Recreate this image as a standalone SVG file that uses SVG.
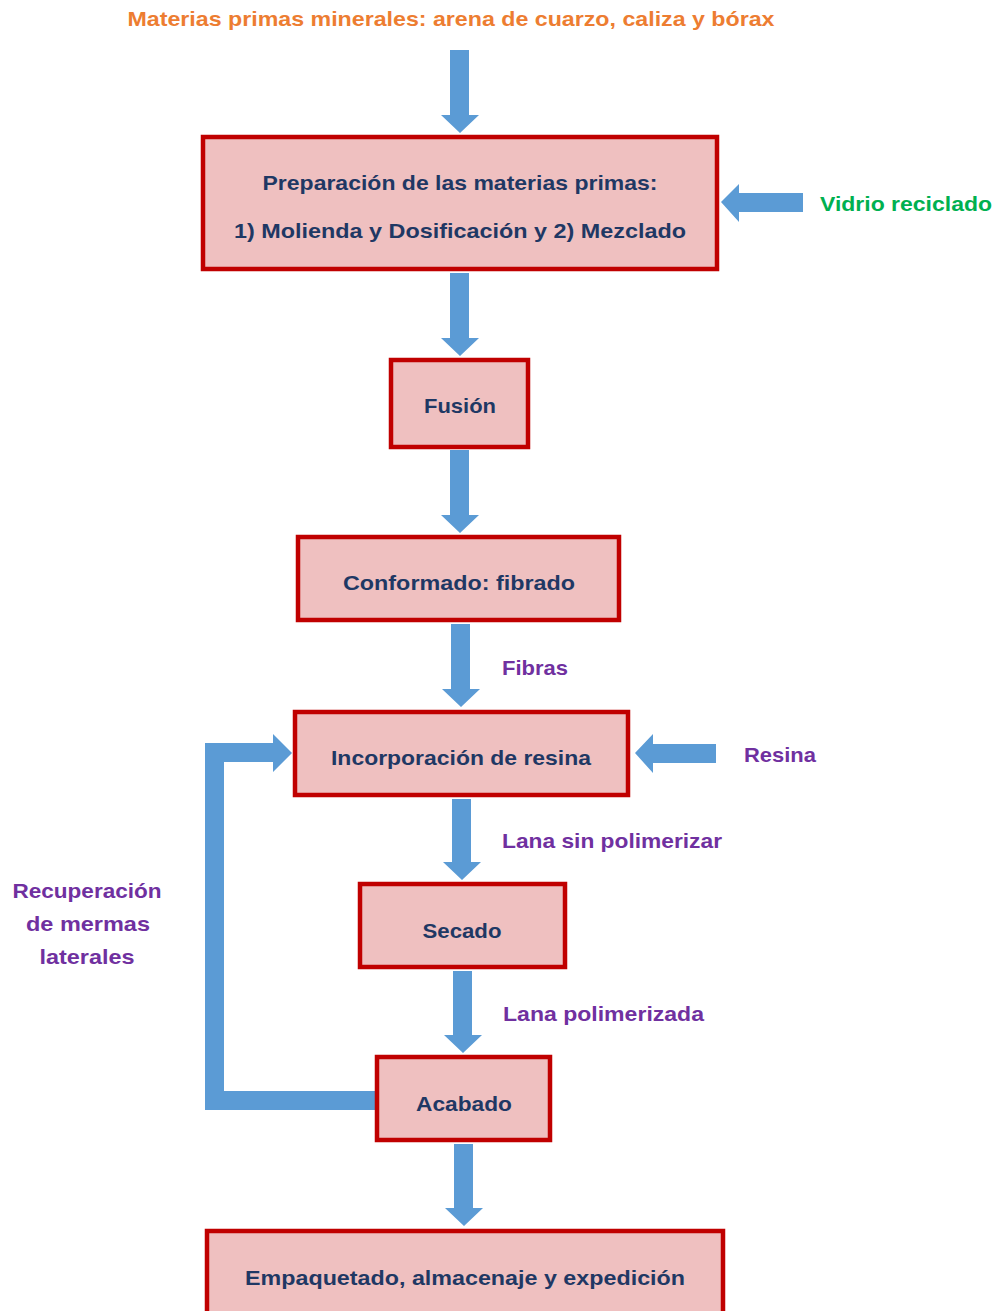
<svg xmlns="http://www.w3.org/2000/svg" width="1003" height="1311" viewBox="0 0 1003 1311">
<style>
.box{fill:#EFC0C0;stroke:#C00000;stroke-width:4.5}
.arr{fill:#5B9BD5}
text{font-family:"Liberation Sans",Arial,sans-serif;font-weight:bold;font-size:21px}
.n{fill:#1F3864;text-anchor:middle}
.p{fill:#7030A0}
.pc{fill:#7030A0;text-anchor:middle}
</style>
<rect width="1003" height="1311" fill="#fff"/>
<text x="451" y="26" fill="#ED7D31" text-anchor="middle" textLength="647" lengthAdjust="spacingAndGlyphs">Materias primas minerales: arena de cuarzo, caliza y bórax</text>
<g id="connectors">
<path class="arr" d="M450,50 H469 V115 H479 L460,133 L441,115 H450 Z"/>
<path class="arr" d="M803,193 V212 H739 V222 L721,202 L739,184 V193 Z"/>
<path class="arr" d="M450,273 H469 V338 H479 L460,356 L441,338 H450 Z"/>
<path class="arr" d="M450,450 H469 V515 H479 L460,533 L441,515 H450 Z"/>
<path class="arr" d="M451,624 H470 V689 H480 L461,707 L442,689 H451 Z"/>
<path class="arr" d="M716,744 V763 H653 V773 L635,753 L653,734 V744 Z"/>
<path class="arr" d="M452,799 H471 V862 H481 L462,880 L443,862 H452 Z"/>
<path class="arr" d="M453,971 H472 V1035 H482 L463,1053 L444,1035 H453 Z"/>
<path class="arr" d="M454,1144 H473 V1208 H483 L464,1226 L445,1208 H454 Z"/>
<path class="arr" d="M375,1091 V1110 H205 V743 H273 V734 L292,753 L273,772 V762 H224 V1091 Z"/>
</g>
<g id="prep">
<rect class="box" x="203" y="137" width="514" height="132"/>
<text class="n" x="460" y="190" textLength="395" lengthAdjust="spacingAndGlyphs">Preparación de las materias primas:</text>
<text class="n" x="460" y="238" textLength="452" lengthAdjust="spacingAndGlyphs">1) Molienda y Dosificación y 2) Mezclado</text>
</g>
<g id="vidrio"><text x="820" y="211" fill="#00B050" textLength="172" lengthAdjust="spacingAndGlyphs">Vidrio reciclado</text></g>
<g id="fusion">
<rect class="box" x="391" y="360" width="137" height="87"/>
<text class="n" x="460" y="413" textLength="72" lengthAdjust="spacingAndGlyphs">Fusión</text>
</g>
<g id="conformado">
<rect class="box" x="298" y="537" width="321" height="83"/>
<text class="n" x="459" y="590" textLength="232" lengthAdjust="spacingAndGlyphs">Conformado: fibrado</text>
</g>
<g id="fibras"><text class="p" x="502" y="675" textLength="66" lengthAdjust="spacingAndGlyphs">Fibras</text></g>
<g id="incorporacion">
<rect class="box" x="295" y="712" width="333" height="83"/>
<text class="n" x="461" y="765" textLength="260" lengthAdjust="spacingAndGlyphs">Incorporación de resina</text>
</g>
<g id="resina"><text class="p" x="744" y="762" textLength="72" lengthAdjust="spacingAndGlyphs">Resina</text></g>
<g id="lanasin"><text class="p" x="502" y="848" textLength="220" lengthAdjust="spacingAndGlyphs">Lana sin polimerizar</text></g>
<g id="recuperacion">
<text class="pc" x="87" y="898" textLength="149" lengthAdjust="spacingAndGlyphs">Recuperación</text>
<text class="pc" x="88" y="931" textLength="124" lengthAdjust="spacingAndGlyphs">de mermas</text>
<text class="pc" x="87" y="964" textLength="95" lengthAdjust="spacingAndGlyphs">laterales</text>
</g>
<g id="secado">
<rect class="box" x="360" y="884" width="205" height="83"/>
<text class="n" x="462" y="938" textLength="79" lengthAdjust="spacingAndGlyphs">Secado</text>
</g>
<g id="lanapol"><text class="p" x="503" y="1021" textLength="201" lengthAdjust="spacingAndGlyphs">Lana polimerizada</text></g>
<g id="acabado">
<rect class="box" x="377" y="1057" width="173" height="83"/>
<text class="n" x="464" y="1111" textLength="96" lengthAdjust="spacingAndGlyphs">Acabado</text>
</g>
<g id="empaquetado">
<rect class="box" x="207" y="1231" width="516" height="90"/>
<text class="n" x="465" y="1285" textLength="440" lengthAdjust="spacingAndGlyphs">Empaquetado, almacenaje y expedición</text>
</g>
</svg>
